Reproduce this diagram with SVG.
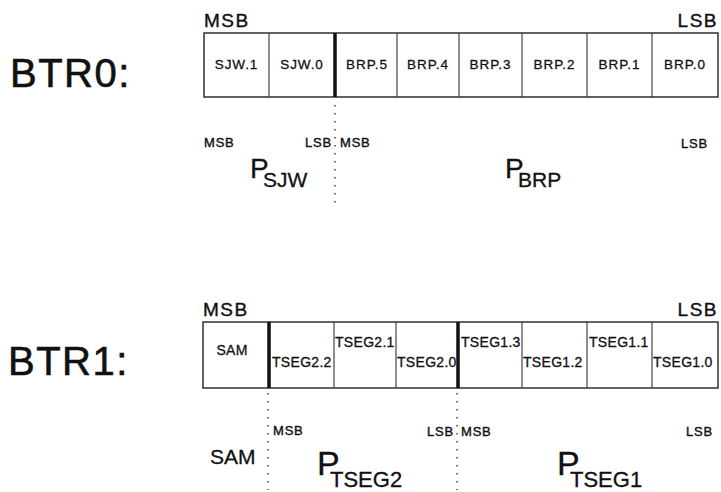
<svg xmlns="http://www.w3.org/2000/svg" width="721" height="492" viewBox="0 0 721 492">
<style>
text{font-family:"Liberation Sans",Arial,Helvetica,sans-serif;fill:#111;stroke:#111;stroke-width:0.3}
.big{font-size:40px;letter-spacing:1.5px;stroke-width:0.6}
.hdr{font-size:19px;letter-spacing:1.5px;stroke-width:0.4}
.cell{font-size:13.5px;letter-spacing:0.9px;text-anchor:middle}
.ts{font-size:14px;letter-spacing:0.3px}
.sm{font-size:13px;letter-spacing:0.8px;stroke-width:0.4}
.box{fill:#fff;stroke:#222;stroke-width:1.4}
.div{stroke:#333;stroke-width:1.1}
.thick{stroke:#111;stroke-width:3.5}
.dot{stroke:#444;stroke-width:1.5;stroke-dasharray:1.5 6.5}
.P{font-size:28px}
.sub{font-size:21px}
.P2{font-size:34px}
.sub2{font-size:22px}
</style>

<g id="btr0-label"><text class="big" x="10" y="87">BTR0:</text></g>
<g id="btr0-register">
  <text class="hdr" x="204" y="27">MSB</text>
  <text class="hdr" x="718" y="27" text-anchor="end">LSB</text>
  <rect class="box" x="204" y="33" width="514" height="64"/>
  <line class="div" x1="269" y1="33" x2="269" y2="97"/>
  <line class="thick" x1="335" y1="33" x2="335" y2="97"/>
  <line class="div" x1="397" y1="33" x2="397" y2="97"/>
  <line class="div" x1="459" y1="33" x2="459" y2="97"/>
  <line class="div" x1="522" y1="33" x2="522" y2="97"/>
  <line class="div" x1="587" y1="33" x2="587" y2="97"/>
  <line class="div" x1="652" y1="33" x2="652" y2="97"/>
  <text class="cell" x="236.5" y="69">SJW.1</text>
  <text class="cell" x="302" y="69">SJW.0</text>
  <text class="cell" x="367" y="69">BRP.5</text>
  <text class="cell" x="428" y="69">BRP.4</text>
  <text class="cell" x="490.5" y="69">BRP.3</text>
  <text class="cell" x="554.5" y="69">BRP.2</text>
  <text class="cell" x="619.5" y="69">BRP.1</text>
  <text class="cell" x="685" y="69">BRP.0</text>
</g>
<g id="btr0-sjw">
  <text class="sm" x="204" y="147">MSB</text>
  <text class="sm" x="332" y="147" text-anchor="end">LSB</text>
  <text class="P" x="250" y="178">P</text>
  <text class="sub" x="263" y="187">SJW</text>
</g>
<g id="btr0-brp">
  <text class="sm" x="340" y="147">MSB</text>
  <text class="sm" x="708" y="148" text-anchor="end">LSB</text>
  <text class="P" x="505" y="178">P</text>
  <text class="sub" x="518" y="187">BRP</text>
</g>

<g id="btr1-label"><text class="big" x="8" y="375">BTR1:</text></g>
<g id="btr1-register">
  <text class="hdr" x="203" y="316">MSB</text>
  <text class="hdr" x="718" y="316" text-anchor="end">LSB</text>
  <rect class="box" x="203" y="322" width="515" height="66"/>
  <line class="thick" x1="269" y1="322" x2="269" y2="388"/>
  <line class="div" x1="334" y1="322" x2="334" y2="388"/>
  <line class="div" x1="396" y1="322" x2="396" y2="388"/>
  <line class="thick" x1="458" y1="322" x2="458" y2="388"/>
  <line class="div" x1="522" y1="322" x2="522" y2="388"/>
  <line class="div" x1="587" y1="322" x2="587" y2="388"/>
  <line class="div" x1="652" y1="322" x2="652" y2="388"/>
  <text class="ts" x="232" y="355" text-anchor="middle">SAM</text>
  <text class="ts" x="272" y="367">TSEG2.2</text>
  <text class="ts" x="335" y="347">TSEG2.1</text>
  <text class="ts" x="397" y="367">TSEG2.0</text>
  <text class="ts" x="461" y="347">TSEG1.3</text>
  <text class="ts" x="523" y="367">TSEG1.2</text>
  <text class="ts" x="589" y="347">TSEG1.1</text>
  <text class="ts" x="653" y="367">TSEG1.0</text>
</g>
<g id="btr1-sam">
  <text x="210" y="464" font-size="21">SAM</text>
</g>
<g id="btr1-tseg2">
  <text class="sm" x="273" y="435">MSB</text>
  <text class="sm" x="454" y="436" text-anchor="end">LSB</text>
  <text class="P2" x="317" y="475">P</text>
  <text class="sub2" x="330" y="487">TSEG2</text>
</g>
<g id="btr1-tseg1">
  <text class="sm" x="461" y="436">MSB</text>
  <text class="sm" x="713" y="436" text-anchor="end">LSB</text>
  <text class="P2" x="557" y="475">P</text>
  <text class="sub2" x="570" y="487">TSEG1</text>
</g>

<g id="connectors">
  <line class="dot" x1="335" y1="105" x2="335" y2="208"/>
  <line class="dot" x1="268" y1="393" x2="268" y2="490"/>
  <line class="dot" x1="457" y1="393" x2="457" y2="490"/>
</g>
</svg>
